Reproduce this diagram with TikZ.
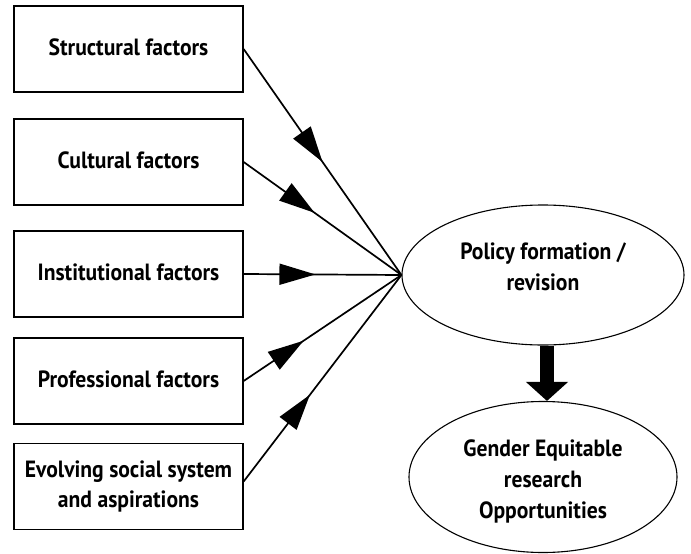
\documentclass[tikz,border=0pt]{standalone}
\usepackage{fontspec}
\setmainfont{PT Sans}[FakeStretch=0.92]
\usetikzlibrary{shapes.geometric,arrows.meta,decorations.markings}
\begin{document}
\begin{tikzpicture}[x=1pt,y=-1pt,
  box/.style={draw, line width=1.3pt, minimum width=229pt, minimum height=86pt, inner sep=0pt,
    font=\bfseries\fontsize{23.5}{30}\selectfont, align=center},
  oval/.style={draw, ellipse, line width=1.1pt, inner sep=0pt,
    font=\bfseries\fontsize{23.5}{31}\selectfont},
  feed/.style={line width=1.7pt, postaction={decorate},
    decoration={markings, mark=at position #1 with {\arrow{Triangle[length=36pt,width=21pt]}}}},
  bigarrow/.style={line width=14pt, -{Triangle[length=19pt,width=41pt]}}
]
\useasboundingbox (0,0) rectangle (691,554);

\node[box] (b1) at (128.5,49) {\raisebox{2pt}[\height][\depth]{Structural factors}};
\node[box] (b2) at (128.5,162) {\raisebox{2pt}[\height][\depth]{Cultural factors}};
\node[box] (b3) at (128.5,274) {\raisebox{2pt}[\height][\depth]{Institutional factors}};
\node[box] (b4) at (128.5,381) {\raisebox{2pt}[\height][\depth]{Professional factors}};
\node[box] (b5) at (128.5,486.5) {Evolving social system\\and aspirations};

\node[oval, minimum width=282pt, minimum height=140pt] (e1) at (543,275)
  {\raisebox{6pt}[\height][\depth]{\begin{tabular}{@{}c@{}}Policy formation /\\revision\end{tabular}}};
\node[oval, minimum width=268pt, minimum height=151pt] (e2) at (543,477)
  {\raisebox{-4pt}[\height][\depth]{\begin{tabular}{@{}c@{}}Gender Equitable\\research\\Opportunities\end{tabular}}};

\coordinate (p) at (e1.west);

\draw[feed=0.5]  (b1.east) -- (p);
\draw[feed=0.45] (b2.east) -- (p);
\draw[feed=0.455] (b3.east) -- (p);
\draw[feed=0.38] (b4.east) -- (p);
\draw[feed=0.42] ([yshift=5pt]b5.east) -- (p);

\coordinate (ta) at ([xshift=4pt]e1.south);
\coordinate (tb) at ([xshift=4pt]e2.north);
\draw[bigarrow] (ta) -- (tb);
\end{tikzpicture}
\end{document}
